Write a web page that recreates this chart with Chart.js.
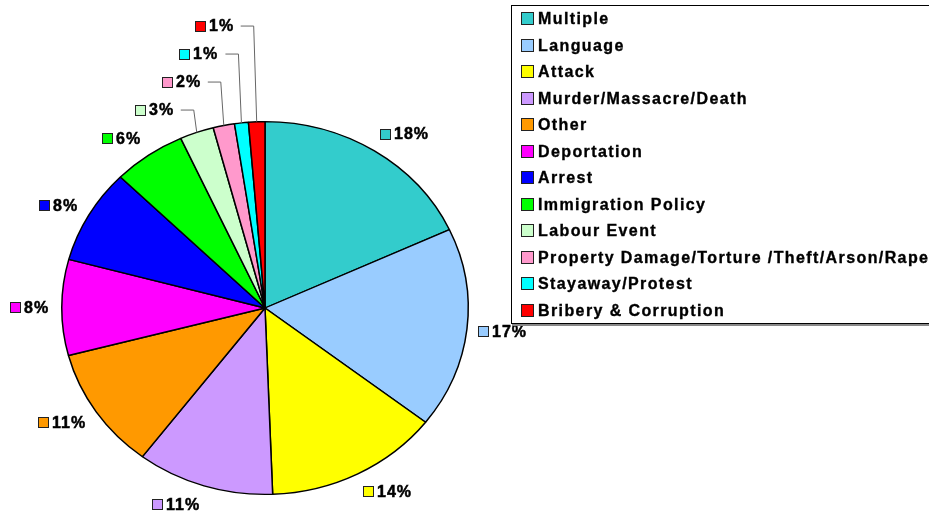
<!DOCTYPE html>
<html>
<head>
<meta charset="utf-8">
<script src="https://cdn.jsdelivr.net/npm/chart.js@4"></script>
<style>
  html, body { margin: 0; padding: 0; background: #fff; overflow: hidden; }
  #wrap { position: relative; width: 929px; height: 513px; }
  #legend {
    position: absolute; left: 511px; top: 5px; width: 440px; height: 317px;
    border: 1px solid #000; box-shadow: 1px 2px 0 #888; background: #fff;
    font: bold 16px "Liberation Sans", Arial, sans-serif; letter-spacing: 1.4px;
    -webkit-text-stroke: 0.35px #000;
  }
  .row { height: 26.5px; line-height: 26.5px; white-space: nowrap; }
  .sw { display: inline-block; width: 11px; height: 11px; border: 1px solid #222;
        margin: 0 4px 0 9px; vertical-align: -1px; }
</style>
</head>
<body>
<div id="wrap">
  <canvas id="pie" width="929" height="513"></canvas>
  <div id="legend"></div>
</div>
<script>
// ---- data (percent share of each category) ----
const categories = ['Multiple', 'Language', 'Attack', 'Murder/Massacre/Death', 'Other',
  'Deportation', 'Arrest', 'Immigration Policy', 'Labour Event',
  'Property Damage/Torture /Theft/Arson/Rape', 'Stayaway/Protest', 'Bribery & Corruption'];
const shares = [18.1, 17.4, 13.9, 10.9, 10.6, 8.3, 8.2, 5.8, 2.7, 1.7, 1.1, 1.3];
const colors = ['#33CCCC', '#99CCFF', '#FFFF00', '#CC99FF', '#FF9900', '#FF00FF',
  '#0000FF', '#00FF00', '#CCFFCC', '#FF99CC', '#00FFFF', '#FF0000'];

const SQUASH = 0.917;   // pie is a bit flatter than round
const FONT = 'bold 16px "Liberation Sans", Arial, sans-serif';

// legend box
const legend = document.getElementById('legend');
categories.forEach((c, i) => {
  const row = document.createElement('div');
  row.className = 'row';
  row.innerHTML = '<span class="sw" style="background:' + colors[i] + '"></span>';
  row.appendChild(document.createTextNode(c));
  legend.appendChild(row);
});

// flatten the pie vertically
const squashPlugin = {
  id: 'squash',
  beforeDatasetsDraw(chart) {
    const arc = chart.getDatasetMeta(0).data[0];
    const ctx = chart.ctx;
    ctx.save();
    ctx.translate(arc.x, arc.y);
    ctx.scale(1, SQUASH);
    ctx.translate(-arc.x, -arc.y);
  },
  afterDatasetsDraw(chart) {
    chart.ctx.restore();
  }
};

// percent labels with colour keys, leader lines for the thin slices
const labelPlugin = {
  id: 'pctLabels',
  afterDraw(chart) {
    const ctx = chart.ctx;
    const arcs = chart.getDatasetMeta(0).data;
    ctx.save();
    ctx.font = FONT;
    ctx.letterSpacing = '1px';
    ctx.textBaseline = 'middle';
    let prevY = null;
    arcs.forEach((arc, i) => {
      const mid = (arc.startAngle + arc.endAngle) / 2;
      const dx = Math.cos(mid), dy = Math.sin(mid);
      const R = arc.outerRadius;
      const text = Math.round(shares[i]) + '%';
      const w = 11 + 4 + ctx.measureText(text).width;
      const h = 14;
      const small = shares[i] < 4;
      const px = arc.x + dx * R * 1.055;
      const py = arc.y + dy * R * SQUASH * (small ? 1.09 : 1.07);
      // box corner sits on the anchor point, on the side facing away from the pie
      let cx = px + Math.sign(dx) * w / 2, cy = py + dy * h / 2;

      if (small) {
        const ex = arc.x + dx * R, ey = arc.y + dy * R * SQUASH;
        if (prevY !== null) cy = Math.min(cy, prevY - 28);
        const right = ex - 22;
        cx = right - w / 2;
        ctx.strokeStyle = '#666';
        ctx.lineWidth = 1;
        ctx.beginPath();
        ctx.moveTo(right + 6, cy);
        ctx.lineTo(ex - 3, cy);
        ctx.lineTo(ex, ey);
        ctx.stroke();
        prevY = cy;
      }

      const left = Math.round(cx - w / 2);
      ctx.fillStyle = colors[i];
      ctx.fillRect(left, Math.round(cy - 5.5), 11, 11);
      ctx.strokeStyle = '#222';
      ctx.lineWidth = 1;
      ctx.strokeRect(left + 0.5, Math.round(cy - 5.5) + 0.5, 10, 10);
      ctx.fillStyle = '#000';
      ctx.strokeStyle = '#000';
      ctx.lineWidth = 0.5;
      ctx.fillText(text, left + 14, cy + 1);
      ctx.strokeText(text, left + 14, cy + 1);
    });
    ctx.restore();
  }
};

new Chart(document.getElementById('pie').getContext('2d'), {
  type: 'pie',
  data: {
    labels: categories,
    datasets: [{
      data: shares,
      backgroundColor: colors,
      borderColor: '#000',
      borderWidth: 1.5
    }]
  },
  options: {
    responsive: false,
    animation: false,
    layout: { padding: { left: 61, right: 460, top: 104, bottom: 1 } },
    plugins: {
      legend: { display: false },
      tooltip: { enabled: false }
    }
  },
  plugins: [squashPlugin, labelPlugin]
});
</script>
</body>
</html>
